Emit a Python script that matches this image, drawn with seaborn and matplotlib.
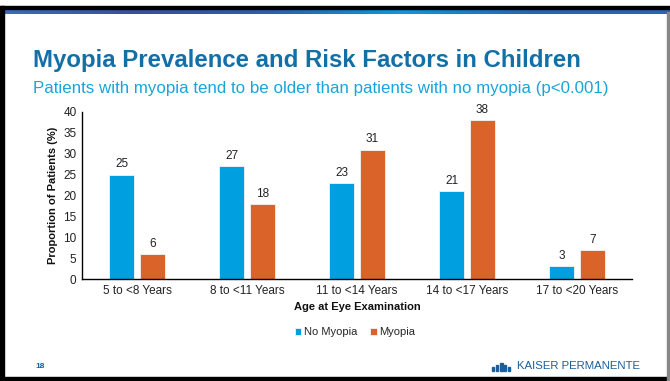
import matplotlib
matplotlib.use('Agg')
import matplotlib.pyplot as plt
from matplotlib.patches import Rectangle
import numpy as np
import pandas as pd
import seaborn as sns

# data
age_groups = ['5 to <8 Years', '8 to <11 Years', '11 to <14 Years',
              '14 to <17 Years', '17 to <20 Years']
no_myopia = [25, 27, 23, 21, 3]
myopia = [6, 18, 31, 38, 7]
series = ['No Myopia', 'Myopia']
y_ticks = [0, 5, 10, 15, 20, 25, 30, 35, 40]

df = pd.DataFrame({
    'age': age_groups * 2,
    'group': [series[0]] * len(age_groups) + [series[1]] * len(age_groups),
    'pct': no_myopia + myopia,
})

sns.set_style('white')
plt.rcParams['font.family'] = ['Liberation Sans', 'DejaVu Sans']

fig = plt.figure(figsize=(6.7, 3.81), dpi=100)
W, H = 670, 381

# slide frame and blue header strip
fig.patches.append(Rectangle((0, 1 - 9 / H), 1, 3 / H, transform=fig.transFigure,
                             color='black', zorder=0))
grad = np.linspace(0, 1, 256).reshape(1, -1)
gax = fig.add_axes([0, 1 - 14 / H, 1, 5 / H])
cmap = matplotlib.colors.LinearSegmentedColormap.from_list(
    'hdr', ['#3b6fb5', '#3a4f9a', '#2f5ea8', '#0e98d8', '#2a63ad', '#2f64ad'])
gax.imshow(grad, aspect='auto', cmap=cmap)
gax.axis('off')
fig.patches.append(Rectangle((0, 0), 4 / W, 1 - 6 / H, transform=fig.transFigure,
                             color='black', zorder=0))
fig.patches.append(Rectangle((0, 0), 1, 4 / H, transform=fig.transFigure,
                             color='black', zorder=0))
fig.patches.append(Rectangle((1 - 3 / W, 0), 1.5 / W, 1 - 12 / H,
                             transform=fig.transFigure, color='#888888', zorder=0))

fig.text(33 / W, 1 - 60 / H, 'Myopia Prevalence and Risk Factors in Children',
         fontsize=17.3, fontweight='bold', color='#1170a8', va='center', ha='left')
fig.text(33 / W, 1 - 88 / H,
         'Patients with myopia tend to be older than patients with no myopia (p<0.001)',
         fontsize=12.2, color='#1ba3dc', va='center', ha='left')

ax = fig.add_axes([82 / W, (H - 279) / H, (632 - 82) / W, (279 - 112) / H])
sns.barplot(data=df, x='age', y='pct', hue='group', ax=ax,
            palette=['#009fdf', '#da632a'], saturation=1, width=0.56, gap=0.2,
            edgecolor='#f3f3f3', linewidth=0.6, legend=True)

for cont in ax.containers:
    ax.bar_label(cont, fmt='%d', padding=3, fontsize=8.5, color='#222222')

ax.set_ylim(0, 40)
ax.set_yticks(y_ticks)
ax.tick_params(axis='both', length=0, labelsize=8.5, colors='#222222', pad=4)
ax.set_ylabel('Proportion of Patients (%)', fontsize=8, fontweight='bold',
              color='#111111', labelpad=4)
ax.set_xlabel('Age at Eye Examination', fontsize=8, fontweight='bold',
              color='#111111', labelpad=4)
sns.despine(ax=ax)
for s in ['left', 'bottom']:
    ax.spines[s].set_color('black')
    ax.spines[s].set_linewidth(1)

ax.legend(loc='center', bbox_to_anchor=(355 / W, 1 - 332 / H),
          bbox_transform=fig.transFigure, ncol=2, frameon=False, fontsize=8,
          handlelength=0.6, handleheight=0.6, handletextpad=0.2, columnspacing=1.2)

fig.text(40 / W, 1 - 366 / H, '18', fontsize=6, fontweight='bold',
         color='#1a5e9a', va='center', ha='center')
fig.text(640 / W, 1 - 366 / H, 'KAISER PERMANENTE', fontsize=8.2,
         color='#1a5e9a', va='center', ha='right')
# small people-mark of the logo
for i, dx in enumerate([0, 4, 8, 12, 16]):
    hgt = [4, 6, 8, 6, 4][i]
    fig.patches.append(Rectangle(((492 + dx) / W, (H - 371) / H), 2.5 / W, hgt / H,
                                 transform=fig.transFigure, color='#1a5e9a'))

fig.savefig('out.png', dpi=100)
